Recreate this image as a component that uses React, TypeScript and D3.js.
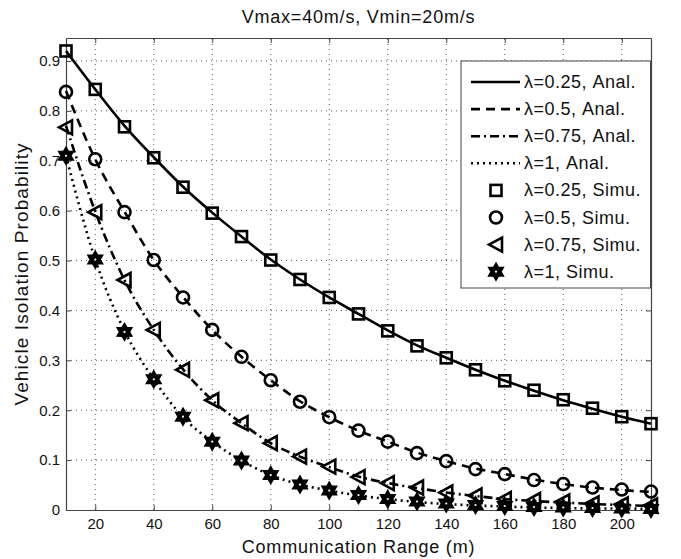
import React, { useEffect, useRef } from 'react';
import * as d3 from 'd3';

// communication range (m)
const ranges = [10, 20, 30, 40, 50, 60, 70, 80, 90, 100, 110, 120, 130, 140, 150, 160, 170, 180, 190, 200, 210];

// analytical results
const anal025 = [0.92, 0.843, 0.77, 0.707, 0.648, 0.596, 0.548, 0.502, 0.462, 0.426, 0.393, 0.36, 0.33, 0.305, 0.281, 0.259, 0.239, 0.22, 0.203, 0.187, 0.173];
const anal05 = [0.84, 0.703, 0.598, 0.501, 0.427, 0.361, 0.307, 0.26, 0.218, 0.186, 0.159, 0.137, 0.115, 0.098, 0.083, 0.072, 0.061, 0.052, 0.045, 0.04, 0.036];
const anal075 = [0.77, 0.598, 0.461, 0.361, 0.282, 0.22, 0.174, 0.134, 0.107, 0.086, 0.067, 0.054, 0.044, 0.035, 0.028, 0.022, 0.018, 0.015, 0.012, 0.01, 0.008];
const anal1 = [0.71, 0.502, 0.359, 0.262, 0.186, 0.137, 0.099, 0.07, 0.051, 0.039, 0.029, 0.022, 0.016, 0.012, 0.009, 0.007, 0.005, 0.004, 0.003, 0.003, 0.002];

// simulation results
const simu025 = [0.92, 0.843, 0.768, 0.706, 0.647, 0.595, 0.548, 0.501, 0.462, 0.426, 0.393, 0.359, 0.329, 0.305, 0.281, 0.259, 0.24, 0.221, 0.204, 0.187, 0.173];
const simu05 = [0.838, 0.703, 0.597, 0.501, 0.426, 0.361, 0.307, 0.26, 0.217, 0.186, 0.159, 0.137, 0.114, 0.098, 0.082, 0.072, 0.06, 0.052, 0.045, 0.041, 0.037];
const simu075 = [0.767, 0.597, 0.461, 0.361, 0.281, 0.22, 0.174, 0.134, 0.107, 0.087, 0.066, 0.054, 0.045, 0.035, 0.029, 0.022, 0.02, 0.017, 0.013, 0.011, 0.009];
const simu1 = [0.71, 0.502, 0.357, 0.262, 0.187, 0.137, 0.099, 0.07, 0.051, 0.039, 0.03, 0.022, 0.017, 0.013, 0.01, 0.008, 0.006, 0.005, 0.004, 0.003, 0.002];

const xTicks = [20, 40, 60, 80, 100, 120, 140, 160, 180, 200];
const yTicks = [0, 0.1, 0.2, 0.3, 0.4, 0.5, 0.6, 0.7, 0.8, 0.9];

const analSeries = [
  { label: 'λ=0.25, Anal.', values: anal025, dash: 'none' },
  { label: 'λ=0.5, Anal.', values: anal05, dash: '9,6' },
  { label: 'λ=0.75, Anal.', values: anal075, dash: '9,4,2,4' },
  { label: 'λ=1, Anal.', values: anal1, dash: '2,4' },
];
const simuSeries = [
  { label: 'λ=0.25, Simu.', values: simu025, marker: 'square' },
  { label: 'λ=0.5, Simu.', values: simu05, marker: 'circle' },
  { label: 'λ=0.75, Simu.', values: simu075, marker: 'triangle' },
  { label: 'λ=1, Simu.', values: simu1, marker: 'hexagram' },
];

const FONT = 'Arial, "Liberation Sans", Helvetica, sans-serif';

function hexagram(r) {
  const pts = [];
  for (let i = 0; i < 12; i++) {
    const a = -Math.PI / 2 + (i * Math.PI) / 6;
    const rr = i % 2 === 0 ? r : r * 0.58;
    pts.push([rr * Math.cos(a), rr * Math.sin(a)]);
  }
  return 'M' + pts.map(p => p.join(',')).join('L') + 'Z';
}

function drawMarker(g, type, x, y) {
  const sw = 2.6;
  if (type === 'square') {
    g.append('rect').attr('x', x - 5.5).attr('y', y - 5.5).attr('width', 11).attr('height', 11)
      .attr('fill', 'none').attr('stroke', '#000').attr('stroke-width', sw);
  } else if (type === 'circle') {
    g.append('circle').attr('cx', x).attr('cy', y).attr('r', 6)
      .attr('fill', 'none').attr('stroke', '#000').attr('stroke-width', sw);
  } else if (type === 'triangle') {
    g.append('path').attr('d', `M${x - 7},${y}L${x + 6},${y - 7}L${x + 6},${y + 7}Z`)
      .attr('fill', 'none').attr('stroke', '#000').attr('stroke-width', sw).attr('stroke-linejoin', 'miter');
  } else {
    g.append('path').attr('d', hexagram(8.5)).attr('transform', `translate(${x},${y})`)
      .attr('fill', '#000').attr('stroke', '#000').attr('stroke-width', 1.5);
    g.append('circle').attr('cx', x).attr('cy', y).attr('r', 1.1).attr('fill', '#fff');
  }
}

export default function App() {
  const ref = useRef(null);

  useEffect(() => {
    const width = 681;
    const height = 559;
    const margin = { top: 38, right: 30, bottom: 49, left: 66 };

    const svg = d3.select(ref.current);
    svg.selectAll('*').remove();
    svg.attr('width', width).attr('height', height);

    svg.append('rect').attr('width', width).attr('height', height).attr('fill', '#fff');

    const x = d3.scaleLinear().domain([10, 210]).range([margin.left, width - margin.right]);
    const y = d3.scaleLinear().domain([0, 0.946]).range([height - margin.bottom, margin.top]);
    const [x0, x1] = x.range();
    const [y0, y1] = y.range();

    // grid
    const grid = svg.append('g').attr('stroke', '#555').attr('stroke-width', 1).attr('stroke-dasharray', '1,4');
    xTicks.forEach(t => {
      grid.append('line').attr('x1', x(t)).attr('x2', x(t)).attr('y1', y0).attr('y2', y1);
    });
    yTicks.filter(t => t > 0).forEach(t => {
      grid.append('line').attr('x1', x0).attr('x2', x1).attr('y1', y(t)).attr('y2', y(t));
    });

    // axes (MATLAB style: ticks inside, box on)
    const xAxis = d3.axisBottom(x).tickValues(xTicks).tickSizeInner(-5).tickSizeOuter(0).tickPadding(8);
    const xAxisTop = d3.axisTop(x).tickValues(xTicks).tickSizeInner(-5).tickSizeOuter(0).tickFormat(() => '');
    const yAxis = d3.axisLeft(y).tickValues(yTicks).tickSizeInner(-5).tickSizeOuter(0).tickPadding(6)
      .tickFormat(d => (d === 0 ? '0' : d3.format('.1f')(d)));
    const yAxisRight = d3.axisRight(y).tickValues(yTicks).tickSizeInner(-5).tickSizeOuter(0).tickFormat(() => '');

    const axes = [
      svg.append('g').attr('transform', `translate(0,${y0})`).call(xAxis),
      svg.append('g').attr('transform', `translate(0,${y1})`).call(xAxisTop),
      svg.append('g').attr('transform', `translate(${x0},0)`).call(yAxis),
      svg.append('g').attr('transform', `translate(${x1},0)`).call(yAxisRight),
    ];
    axes.forEach(a => {
      a.selectAll('path').attr('stroke', '#444').attr('stroke-width', 1.2);
      a.selectAll('line').attr('stroke', '#444');
      a.selectAll('text').attr('fill', '#111').style('font-family', FONT).style('font-size', '15px');
    });

    // analytical curves
    const line = d3.line()
      .x((d, i) => x(ranges[i]))
      .y(d => y(d))
      .curve(d3.curveMonotoneX);
    analSeries.forEach(s => {
      svg.append('path')
        .datum(s.values)
        .attr('d', line)
        .attr('fill', 'none')
        .attr('stroke', '#000')
        .attr('stroke-width', 2.6)
        .attr('stroke-dasharray', s.dash);
    });

    // simulation markers
    const mk = svg.append('g');
    simuSeries.forEach(s => {
      s.values.forEach((v, i) => drawMarker(mk, s.marker, x(ranges[i]), y(v)));
    });

    // title and labels
    svg.append('text').attr('x', (x0 + x1) / 2).attr('y', 23).attr('text-anchor', 'middle')
      .style('font-family', FONT).style('font-size', '18px').style('letter-spacing', '0.8px').attr('fill', '#111')
      .text('Vmax=40m/s, Vmin=20m/s');
    svg.append('text').attr('x', (x0 + x1) / 2).attr('y', 553).attr('text-anchor', 'middle')
      .style('font-family', FONT).style('font-size', '18px').style('letter-spacing', '0.8px').attr('fill', '#111')
      .text('Communication Range (m)');
    svg.append('text').attr('transform', `translate(28,${(y0 + y1) / 2}) rotate(-90)`).attr('text-anchor', 'middle')
      .style('font-family', FONT).style('font-size', '19px').style('letter-spacing', '1.1px').attr('fill', '#111')
      .text('Vehicle Isolation Probability');

    // legend
    const lg = svg.append('g');
    lg.append('rect').attr('x', 461).attr('y', 61).attr('width', 189.5).attr('height', 227)
      .attr('fill', '#fff').attr('stroke', '#444').attr('stroke-width', 1);
    const rowY = i => 82 + i * 27.1;
    analSeries.forEach((s, i) => {
      lg.append('line').attr('x1', 471).attr('x2', 520).attr('y1', rowY(i)).attr('y2', rowY(i))
        .attr('stroke', '#000').attr('stroke-width', 2.6).attr('stroke-dasharray', s.dash);
      lg.append('text').attr('x', 524).attr('y', rowY(i) + 6).style('font-family', FONT).style('font-size', '18px')
        .style('letter-spacing', '0.5px').attr('fill', '#111').text(s.label);
    });
    simuSeries.forEach((s, j) => {
      const i = j + 4;
      drawMarker(lg, s.marker, 496, rowY(i));
      lg.append('text').attr('x', 524).attr('y', rowY(i) + 6).style('font-family', FONT).style('font-size', '18px')
        .style('letter-spacing', '0.5px').attr('fill', '#111').text(s.label);
    });
  }, []);

  return <svg ref={ref} style={{ display: 'block', position: 'absolute', left: 0, top: 0 }} />;
}
